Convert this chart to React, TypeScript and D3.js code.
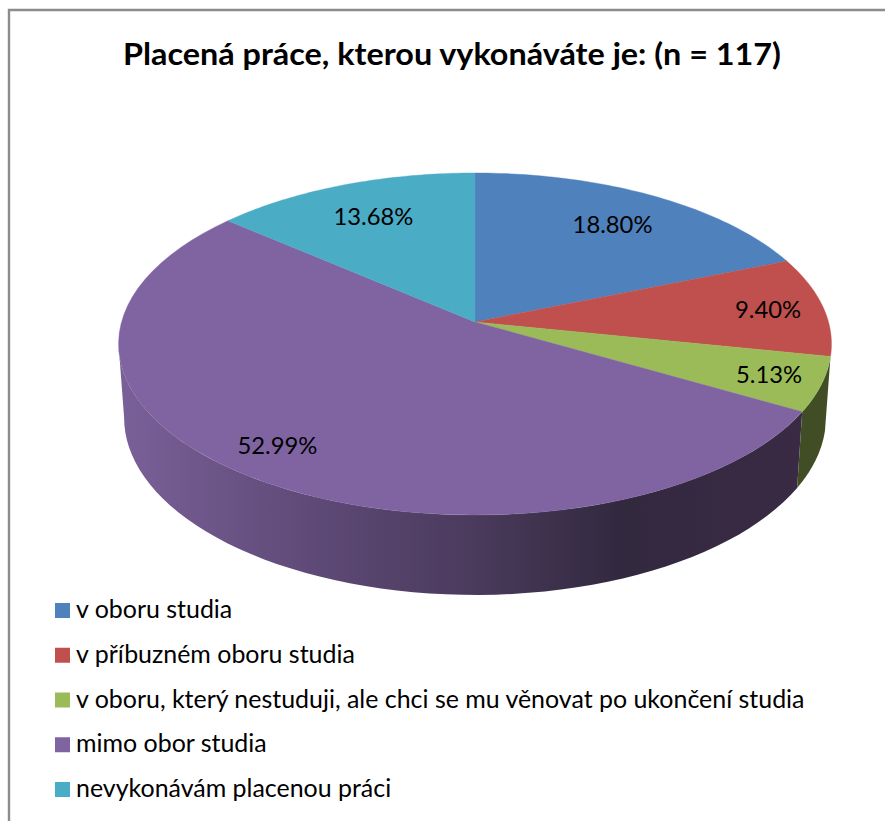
import * as d3 from "d3";

const title = "Placená práce, kterou vykonáváte je: (n = 117)";
const categories = [
  "v oboru studia",
  "v příbuzném oboru studia",
  "v oboru, který nestuduji, ale chci se mu věnovat po ukončení studia",
  "mimo obor studia",
  "nevykonávám placenou práci",
];
const shares = [18.8, 9.4, 5.13, 52.99, 13.68];
const colors = ["#4f81bd", "#c0504d", "#9bbb59", "#8064a2", "#4bacc6"];
// how far out each percentage sits along its slice's middle, and a small turn off it (degrees)
const labelRadius = [0.755, 0.84, 0.855, 0.845, 0.75];
const labelTurn = [0, 0.4, 0, 1.8, 0];

const W = 885, H = 821;
const FONT = "Lato, 'Open Sans', sans-serif";

// Excel-style perspective disc: near edge is bigger than the far edge
const K = 0.1286;
const top = { x: 475, y: 322, a: 353.5, b: 168.2 };
const bottom = { x: 475, y: 394.7, a: 348, b: 174.5 };

function project(disc: typeof top, angle: number, r = 1): [number, number] {
  const u = Math.sin(angle) * r, v = -Math.cos(angle) * r;
  const w = 1 - K * v;
  return [disc.x + disc.a * u / w, disc.y + disc.b * v / w];
}

const line = d3.line();
const TAU = Math.PI * 2;
// where the disc is widest on the left, the wall's silhouette leaves from here
const leftEdge = TAU - Math.acos(-K);
const arcPts = (disc: typeof top, a0: number, a1: number) =>
  d3.range(0, 61).map(i => project(disc, a0 + (a1 - a0) * i / 60));

function wallPath(a0: number, a1: number) {
  return line([...arcPts(top, a0, a1), ...arcPts(bottom, a0, a1).reverse()]) + "Z";
}
function slicePath(a0: number, a1: number) {
  return line([[top.x, top.y], ...arcPts(top, a0, a1)]) + "Z";
}

const arcs = d3.pie<number>().sort(null).value(d => d)(shares);

const legendY = d3.scaleLinear().domain([0, 4]).range([603, 782]);

const shadeStops = [
  { x: 119, c: "#7a6098" },
  { x: 300, c: "#604b79" },
  { x: 475, c: "#4a3a5c" },
  { x: 620, c: "#32293f" },
  { x: 800, c: "#3a2a44" },
];
const shadeX = d3.scaleLinear().domain([119, 800]).range([0, 1]);

export default function App() {
  const green = arcs[2], purple = arcs[3];
  return (
    <svg width={W} height={H} viewBox={`0 0 ${W} ${H}`}
      style={{ position: "absolute", left: 0, top: 0, display: "block", background: "#fff" }}>
      <defs>
        <linearGradient id="wall" gradientUnits="userSpaceOnUse" x1={119} x2={800} y1={0} y2={0}>
          {shadeStops.map(s => <stop key={s.x} offset={shadeX(s.x)} stopColor={s.c} />)}
        </linearGradient>
      </defs>

      {/* frame runs off the right and bottom of the crop */}
      <path d={`M${W},10H9V${H}`} fill="none" stroke="#8c8c8c" strokeWidth={2.4} />

      <text x={452} y={65} textAnchor="middle" fontFamily={FONT} fontWeight={700} fontSize={29.5} fill="#000"
        textLength={658} lengthAdjust="spacingAndGlyphs">{title}</text>

      {/* walls: purple goes round to the left silhouette, green sits on the right */}
      <path d={wallPath(purple.startAngle, leftEdge)} fill="url(#wall)" />
      <path d={wallPath(green.startAngle, green.endAngle)} fill="#414d25" />

      {arcs.map((d, i) => (
        <path key={i} d={slicePath(d.startAngle, d.endAngle)} fill={colors[i]} stroke={colors[i]} strokeWidth={0.4} />
      ))}

      {arcs.map((d, i) => {
        const mid = (d.startAngle + d.endAngle) / 2 + labelTurn[i] * Math.PI / 180;
        const [x, y] = project(top, mid, labelRadius[i]);
        return (
          <text key={i} x={x} y={y} dy="0.35em" textAnchor="middle" fontFamily={FONT} fontSize={23.8} fill="#000">
            {d.value.toFixed(2)}%
          </text>
        );
      })}

      {categories.map((c, i) => (
        <g key={c}>
          <rect x={55} y={legendY(i)} width={15} height={15} fill={colors[i]} />
          <text x={76} y={legendY(i) + 15} fontFamily={FONT} fontSize={24.95} fill="#000">{c}</text>
        </g>
      ))}
    </svg>
  );
}
